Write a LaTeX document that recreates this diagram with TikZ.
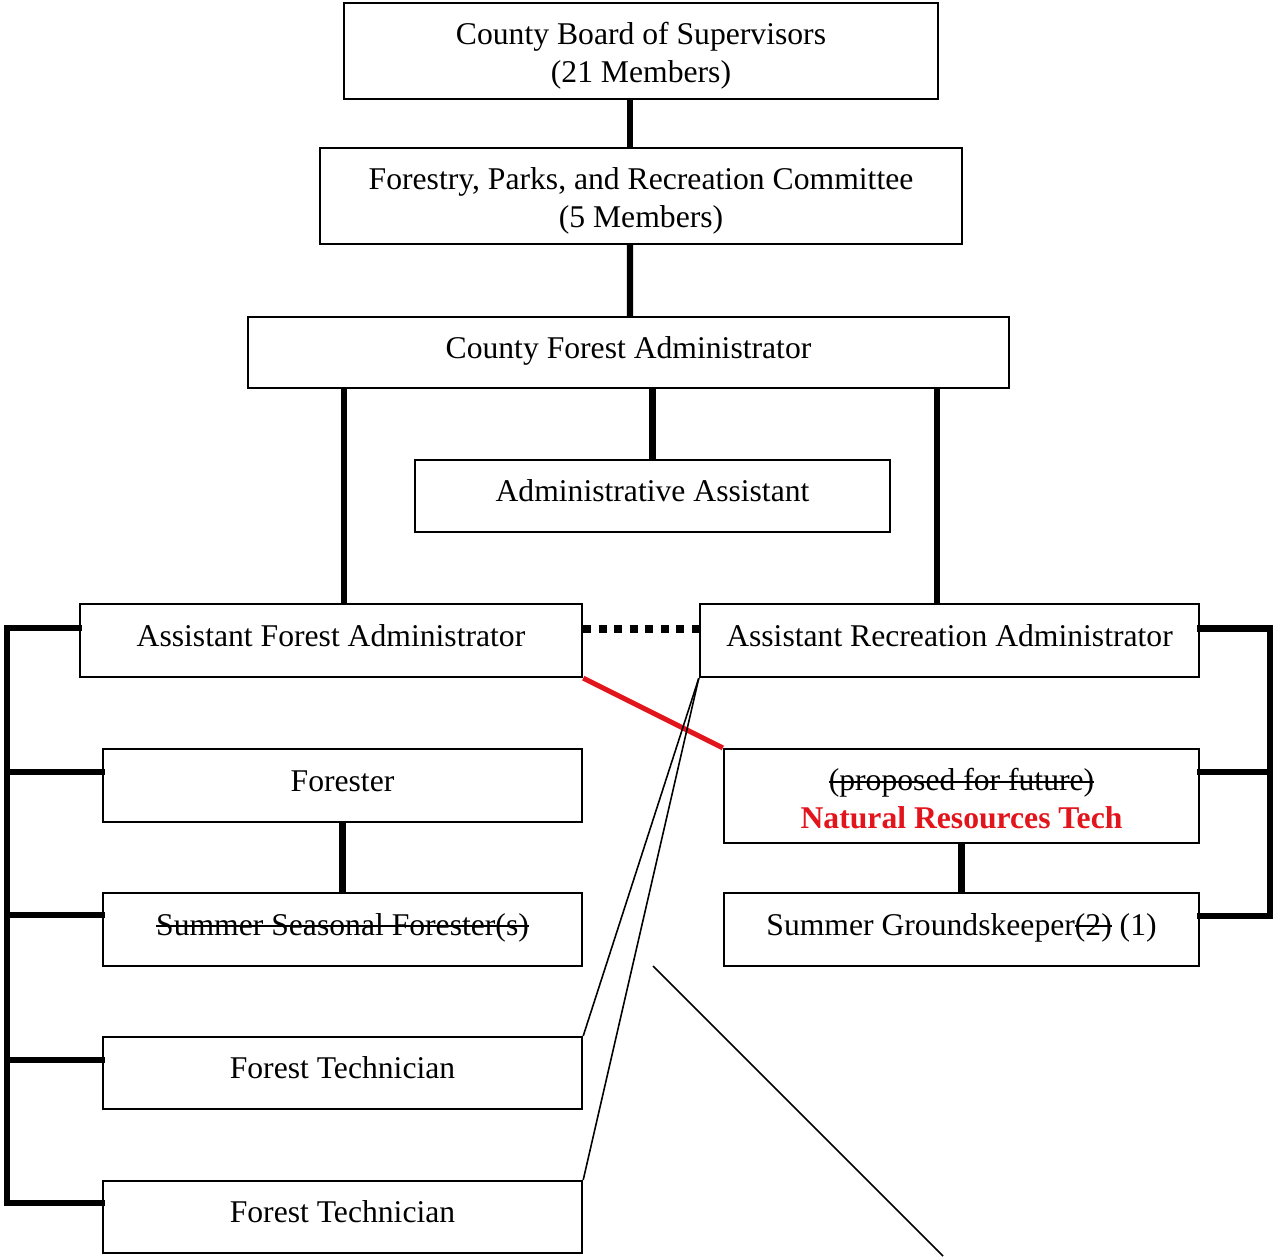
\documentclass[tikz,border=0pt]{standalone}
\usepackage{fontspec}
\setmainfont{Liberation Serif}
\newcommand\strk[1]{\setbox0\hbox{#1}\leavevmode\rlap{\rule[0.26em]{\wd0}{0.5pt}}\box0\relax}
\newcommand\topstrut[1]{\rule{0pt}{#1}}
\definecolor{nrtred}{RGB}{226,20,28}
\begin{document}
\begin{tikzpicture}[x=0.01cm,y=-0.01cm,
  box/.style={draw=black, line width=0.6pt, rectangle, align=center, inner sep=0pt,
    font=\fontsize{9}{10.8}\selectfont},
  onebox/.style={box, text height=0.24cm, text depth=0.13cm},
  conn/.style={line width=1.8pt, line cap=rect},
  thin/.style={line width=0.45pt},
  ]
\useasboundingbox (0,0) rectangle (1274,1256);
\fill[white] (0,0) rectangle (1274,1256);

\node[box, minimum width=5.94cm, minimum height=0.96cm] (board) at (641,51) {\topstrut{0.31cm}County Board of Supervisors\\(21 Members)};
\node[box, minimum width=6.42cm, minimum height=0.96cm] (comm) at (641,196) {\topstrut{0.31cm}Forestry, Parks, and Recreation Committee\\(5 Members)};
\node[onebox, minimum width=7.61cm, minimum height=0.71cm] (cfa) at (628.5,352.5) {County Forest Administrator};
\node[onebox, minimum width=4.75cm, minimum height=0.72cm] (admin) at (652.5,496) {Administrative Assistant};
\node[onebox, minimum width=5.02cm, minimum height=0.73cm] (afa) at (331,640.5) {Assistant Forest Administrator};
\node[onebox, minimum width=4.99cm, minimum height=0.73cm] (ara) at (949.5,640.5) {Assistant Recreation Administrator};
\node[onebox, minimum width=4.79cm, minimum height=0.73cm] (forester) at (342.5,785.5) {Forester};
\node[onebox, minimum width=4.79cm, minimum height=0.73cm] (ssf) at (342.5,929.5) {\strk{Summer Seasonal Forester(s)}};
\node[onebox, minimum width=4.79cm, minimum height=0.72cm] (ft1) at (342.5,1073) {Forest Technician};
\node[onebox, minimum width=4.79cm, minimum height=0.72cm] (ft2) at (342.5,1217) {Forest Technician};
\node[box, minimum width=4.75cm, minimum height=0.94cm] (nrt) at (961.5,796) {\topstrut{0.28cm}\strk{(proposed for future)}\\{\color{nrtred}\bfseries Natural Resources Tech}};
\node[onebox, minimum width=4.75cm, minimum height=0.73cm] (sg) at (961.5,929.5) {Summer Groundskeeper\strk{(2)} (1)};

\coordinate (lb) at (7,0);
\coordinate (rb) at (1270,0);
\coordinate (s1) at (653,966);
\coordinate (s2) at (943,1256);

% vertical hierarchy
\draw[conn, line cap=butt] ([xshift=-0.11cm]board.south) -- ([xshift=-0.11cm]comm.north);
\draw[conn, line cap=butt] ([xshift=-0.11cm]comm.south) -- ([xshift=0.015cm]cfa.north);
\draw[conn, line cap=butt] (admin.north) -- (admin.north |- cfa.south);
\draw[conn, line cap=butt] ([xshift=0.13cm]afa.north) -- ([xshift=0.13cm]afa.north |- cfa.south);
\draw[conn, line cap=butt] ([xshift=-0.125cm]ara.north) -- ([xshift=-0.125cm]ara.north |- cfa.south);
\draw[conn, line cap=butt] (forester.south) -- (ssf.north);
\draw[conn, line cap=butt] (nrt.south) -- (sg.north);

% left bracket
\draw[conn] ([yshift=0.125cm]afa.west) -- ([yshift=0.125cm]afa.west -| lb) |- ([yshift=0.14cm]ft2.west);
\draw[conn] ([yshift=0.135cm]forester.west) -- ([yshift=0.135cm]forester.west -| lb);
\draw[conn] ([yshift=0.145cm]ssf.west) -- ([yshift=0.145cm]ssf.west -| lb);
\draw[conn] ([yshift=0.13cm]ft1.west) -- ([yshift=0.13cm]ft1.west -| lb);

% right bracket
\draw[conn] ([yshift=0.12cm]ara.east) -- ([yshift=0.12cm]ara.east -| rb) |- ([yshift=0.135cm]sg.east);
\draw[conn] ([yshift=0.24cm]nrt.east) -- ([yshift=0.24cm]nrt.east -| rb);

% dotted link
\draw[line width=0.08cm, dash pattern=on 0.08cm off 0.075cm] ([yshift=0.115cm]afa.east) -- ([yshift=0.115cm]ara.west);

% red link
\draw[nrtred, line width=0.05cm] (afa.south east) -- (nrt.north west);

% thin links
\draw[thin] (ara.south west) -- (ft1.north east);
\draw[thin] (ara.south west) -- (ft2.north east);
\draw[thin] (s1) -- (s2);
\end{tikzpicture}
\end{document}
